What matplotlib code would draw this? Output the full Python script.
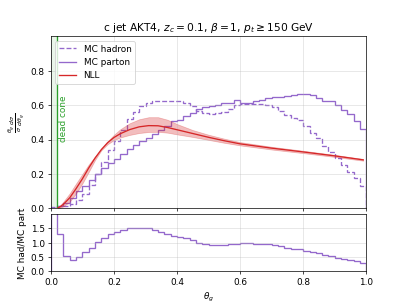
import matplotlib
matplotlib.use("Agg")

import matplotlib.pyplot as plt
import numpy as np

# binned MC distributions, 50 bins of width 0.02 in theta_g
edges = np.linspace(0.0, 1.0, 51)
mc_parton = [0.003, 0.012, 0.03, 0.062, 0.10, 0.13, 0.165, 0.20, 0.235, 0.262,
             0.285, 0.315, 0.345, 0.368, 0.39, 0.41, 0.435, 0.457, 0.48, 0.506,
             0.515, 0.535, 0.552, 0.575, 0.588, 0.593, 0.603, 0.61, 0.613, 0.632,
             0.615, 0.615, 0.625, 0.632, 0.64, 0.645, 0.648, 0.655, 0.658, 0.666,
             0.662, 0.658, 0.642, 0.623, 0.623, 0.60, 0.574, 0.549, 0.506, 0.463]
mc_hadron = [0.008, 0.0156, 0.016, 0.025, 0.05, 0.086, 0.137, 0.202, 0.27, 0.338,
             0.393, 0.457, 0.52, 0.56, 0.593, 0.615, 0.622, 0.622, 0.624, 0.622,
             0.622, 0.615, 0.596, 0.565, 0.553, 0.551, 0.555, 0.561, 0.576, 0.600,
             0.609, 0.609, 0.606, 0.607, 0.602, 0.587, 0.564, 0.544, 0.525, 0.515,
             0.48, 0.44, 0.41, 0.365, 0.33, 0.29, 0.25, 0.213, 0.178, 0.132]

# NLL prediction with its uncertainty band
nll_x = [0.02, 0.03, 0.04, 0.06, 0.08, 0.10, 0.12, 0.14, 0.16, 0.18, 0.20, 0.22, 0.25,
         0.28, 0.31, 0.34, 0.37, 0.40, 0.45, 0.50, 0.55, 0.60, 0.70, 0.80, 0.90, 0.99]
nll_mid = [0.0, 0.01, 0.024, 0.062, 0.115, 0.172, 0.235, 0.292, 0.342, 0.382, 0.412, 0.434, 0.458,
           0.474, 0.481, 0.48, 0.47, 0.457, 0.435, 0.413, 0.393, 0.375, 0.35, 0.328, 0.305, 0.282]
nll_up = [0.0, 0.018, 0.04, 0.088, 0.145, 0.2, 0.255, 0.302, 0.345, 0.39, 0.428, 0.46, 0.495,
          0.518, 0.53, 0.53, 0.515, 0.49, 0.455, 0.428, 0.405, 0.385, 0.358, 0.335, 0.311, 0.287]
nll_lo = [0.0, 0.004, 0.012, 0.04, 0.087, 0.145, 0.212, 0.281, 0.338, 0.373, 0.397, 0.412, 0.427,
          0.438, 0.444, 0.445, 0.44, 0.43, 0.415, 0.398, 0.381, 0.366, 0.342, 0.321, 0.299, 0.277]

theta_dc = 0.02

purple = "#9468cc"

fig, (ax, axr) = plt.subplots(2, 1, figsize=(6.4, 4.8), dpi=63.6, sharex=True,
                              gridspec_kw={"height_ratios": [3, 1], "hspace": 0.05})

ax.axvspan(0, theta_dc, color="tab:green", alpha=0.1, lw=0)
ax.axvline(theta_dc, color="tab:green", lw=1.5)
ax.text(theta_dc + 0.006, 0.52, "dead cone", color="tab:green", rotation=90,
        ha="left", va="center")

ax.stairs(mc_hadron, edges, color=purple, ls="--", lw=1.5, label="MC hadron")
ax.stairs(mc_parton, edges, color=purple, lw=1.5, label="MC parton")
ax.fill_between(nll_x, nll_lo, nll_up, color="tab:red", alpha=0.3, lw=0.8)
ax.plot(nll_x, nll_mid, color="tab:red", lw=1.5, label="NLL")

ax.set_xlim(0, 1)
ax.set_ylim(0, 1.0)
ax.set_yticks([0.0, 0.2, 0.4, 0.6, 0.8])
ax.grid(True, alpha=0.4)
ax.legend(loc="upper left")
ax.set_ylabel(r"$\frac{\theta_g}{\sigma}\frac{d\sigma}{d\theta_g}$")
ax.set_title(r"c jet AKT4, $z_c = 0.1$, $\beta = 1$, $p_t \geq 150$ GeV")
ax.tick_params(labelbottom=False)

ratio = np.array(mc_hadron) / np.array(mc_parton)
axr.stairs(ratio, edges, color=purple, lw=1.5)
axr.set_ylim(0, 2.0)
axr.set_yticks([0.0, 0.5, 1.0, 1.5])
axr.set_xlim(0, 1)
axr.grid(True, alpha=0.4)
axr.set_ylabel("MC had/MC part")
axr.set_xlabel(r"$\theta_g$")

fig.savefig("out.png")
